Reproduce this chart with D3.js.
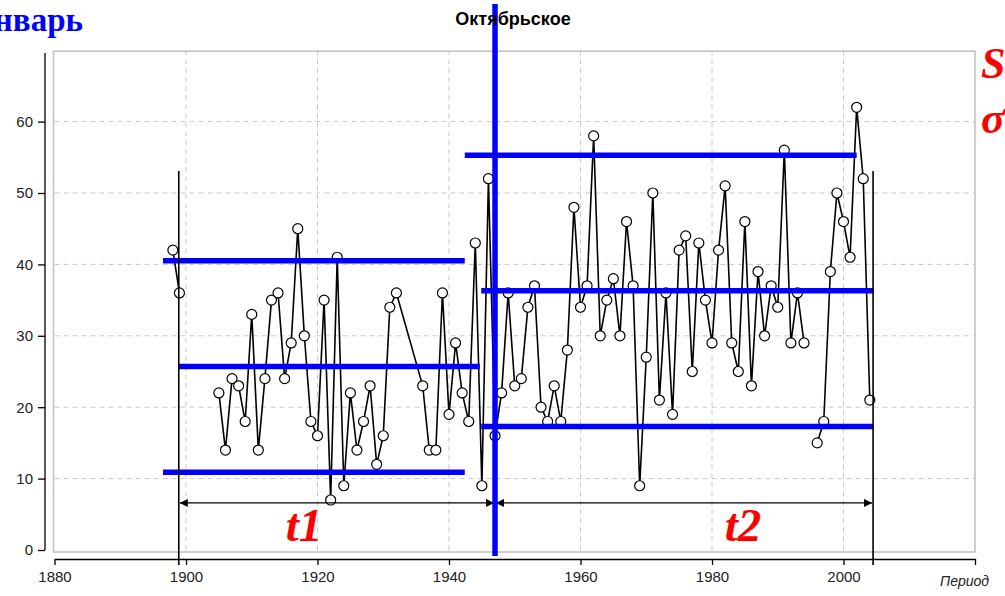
<!DOCTYPE html>
<html>
<head>
<meta charset="UTF-8">
<title>Октябрьское</title>
<script src="https://d3js.org/d3.v7.min.js"></script>
<style>
  body { margin: 0; background: #fff; }
  .grid line { stroke: #c8c8c8; stroke-dasharray: 5,4; }
  .axis text { font: 15px "Liberation Sans Narrow", "Liberation Sans", Arial, sans-serif; fill: #222; }
  .axis path, .axis line { stroke: #000; stroke-width: 1.3; }
</style>
</head>
<body>
<script>
// --- data ---
var years = d3.range(1898, 1933).concat(d3.range(1936, 2005)); // 1933-1935 not observed
var values = [
  42, 36, null, null, null, null, null,           // 1898-1904
  22, 14, 24, 23, 18, 33, 14, 24, 35, 36,         // 1905-1914
  24, 29, 45, 30, 18, 16, 35, 7, 41, 9,           // 1915-1924
  22, 14, 18, 23, 12, 16, 34, 36,                 // 1925-1932
  23, 14, 14, 36, 19, 29, 22, 18, 43, 9,          // 1936-1945
  52, 16, 22, 36, 23, 24, 34, 37, 20, 18,         // 1946-1955
  23, 18, 28, 48, 34, 37, 58, 30, 35, 38,         // 1956-1965
  30, 46, 37, 9, 27, 50, 21, 36, 19, 42,          // 1966-1975
  44, 25, 43, 35, 29, 42, 51, 29, 25, 46,         // 1976-1985
  23, 39, 30, 37, 34, 56, 29, 36, 29, null,       // 1986-1995
  15, 18, 39, 50, 46, 41, 62, 52, 21              // 1996-2004
];
var xTicks = [1880, 1900, 1920, 1940, 1960, 1980, 2000, 2020];
var xTickLabels = ["1880", "1900", "1920", "1940", "1960", "1980", "2000", ""];
var yTicks = [0, 10, 20, 30, 40, 50, 60];

// mean and +/- levels for the two periods
var bandLevel = [40.5, 25.7, 10.9, 55.3, 36.3, 17.3];
var bandStart = [1896.5, 1898.9, 1896.5, 1942.4, 1944.9, 1944.9];
var bandEnd   = [1942.4, 1944.7, 1942.4, 2002.0, 2004.5, 2004.5];

var breakYear = 1947;               // change point
var periodBounds = [1898.9, 2004.5]; // start / end of record
var arrowLevel = 6.6;

var data = years.map(function (yr, i) { return {year: yr, v: values[i]}; });

// --- layout ---
var W = 1005, H = 596;
var x = d3.scaleLinear().domain([1880, 2020]).range([54.5, 975]);
var y = d3.scaleLinear().domain([0, 70]).range([550, 50.2]);

var svg = d3.select("body").append("svg")
    .attr("width", W).attr("height", H)
    .style("display", "block");

var defs = svg.append("defs");
defs.append("marker").attr("id", "arr")
    .attr("viewBox", "0 0 10 10").attr("refX", 10).attr("refY", 5)
    .attr("markerWidth", 12).attr("markerHeight", 8)
    .attr("markerUnits", "userSpaceOnUse")
    .attr("orient", "auto-start-reverse")
  .append("path").attr("d", "M0,0L10,5L0,10Z").attr("fill", "#000");

// GRID
var grid = svg.append("g").attr("class", "grid");
grid.selectAll(".gy").data(yTicks.slice(1)).enter().append("line")
    .attr("x1", x(1880)).attr("x2", x(2020))
    .attr("y1", function (d) { return y(d); })
    .attr("y2", function (d) { return y(d); });
grid.selectAll(".gx").data(xTicks.slice(1, -1)).enter().append("line")
    .attr("x1", function (d) { return x(d); })
    .attr("x2", function (d) { return x(d); })
    .attr("y1", y(70)).attr("y2", y(0) + 2);

// PLOT FRAME
svg.append("rect")
    .attr("x", x(1880) - 1).attr("y", y(70) + 1)
    .attr("width", x(2020) - x(1880) + 1)
    .attr("height", y(0) - y(70) + 1)
    .attr("fill", "none").attr("stroke", "#c4c4c4").attr("stroke-width", 1.6);

// AXES
svg.append("g").attr("class", "axis")
    .attr("transform", "translate(45,0)")
    .call(d3.axisLeft(y).tickValues(yTicks).tickSize(7).tickSizeOuter(0).tickPadding(5))
    .select(".domain").attr("d", "M0," + (y(0)) + "V53");

svg.append("g").attr("class", "axis")
    .attr("transform", "translate(0,559)")
    .call(d3.axisBottom(x).tickValues(xTicks).tickSize(6).tickSizeOuter(0).tickPadding(6)
        .tickFormat(function (d, i) { return xTickLabels[i]; }));

svg.append("text")
    .attr("x", 940).attr("y", 586)
    .style("font", "italic 14px 'Liberation Sans Narrow', 'Liberation Sans', Arial, sans-serif")
    .attr("fill", "#222")
    .text("Период");

// DATA LINE + POINTS
var line = d3.line()
    .defined(function (d) { return d.v != null; })
    .x(function (d) { return x(d.year); })
    .y(function (d) { return y(d.v); });

svg.append("path").datum(data)
    .attr("d", line)
    .attr("fill", "none").attr("stroke", "#000").attr("stroke-width", 1.6);

svg.selectAll(".pt").data(data.filter(function (d) { return d.v != null; }))
  .enter().append("circle")
    .attr("cx", function (d) { return x(d.year); })
    .attr("cy", function (d) { return y(d.v); })
    .attr("r", 5)
    .attr("fill", "#fff").attr("stroke", "#000").attr("stroke-width", 1.2);

// BLUE LEVEL LINES
svg.selectAll(".band").data(bandLevel).enter().append("line")
    .attr("x1", function (d, i) { return x(bandStart[i]); })
    .attr("x2", function (d, i) { return x(bandEnd[i]); })
    .attr("y1", function (d) { return y(d); })
    .attr("y2", function (d) { return y(d); })
    .attr("stroke", "#0000ff").attr("stroke-width", 5.5);

// PERIOD BOUNDS
svg.selectAll(".bound").data(periodBounds).enter().append("line")
    .attr("x1", function (d) { return x(d); })
    .attr("x2", function (d) { return x(d); })
    .attr("y1", 171).attr("y2", 565)
    .attr("stroke", "#000").attr("stroke-width", 1.6);

// ARROWS
var arrowSpans = [[periodBounds[0], breakYear], [breakYear, periodBounds[1]]];
svg.selectAll(".arrow").data(arrowSpans).enter().append("line")
    .attr("x1", function (d) { return x(d[0]) + 1; })
    .attr("x2", function (d) { return x(d[1]) - 1; })
    .attr("y1", y(arrowLevel)).attr("y2", y(arrowLevel))
    .attr("stroke", "#000").attr("stroke-width", 1.4)
    .attr("marker-start", "url(#arr)").attr("marker-end", "url(#arr)");

// CHANGE POINT
svg.append("line")
    .attr("x1", x(breakYear)).attr("x2", x(breakYear))
    .attr("y1", 4).attr("y2", 556)
    .attr("stroke", "#0000ff").attr("stroke-width", 5.5);

// LABELS
svg.append("text")
    .attr("x", 513).attr("y", 25).attr("text-anchor", "middle")
    .style("font", "bold 18px 'Liberation Sans', Arial, sans-serif")
    .text("Октябрьское");

svg.append("text")
    .attr("x", 83).attr("y", 31).attr("text-anchor", "end")
    .style("font", "bold 33px 'Liberation Serif', 'Times New Roman', serif")
    .attr("fill", "#0000ff")
    .text("Январь");

var red = "#ff0000";
[["S", 78], ["σ", 133]].forEach(function (t) {
  svg.append("text")
    .attr("x", 981).attr("y", t[1])
    .style("font", "italic bold 44px 'Liberation Serif', 'Times New Roman', serif")
    .attr("fill", red).text(t[0]);
});
[["t1", 304], ["t2", 743]].forEach(function (t) {
  svg.append("text")
    .attr("x", t[1]).attr("y", 541).attr("text-anchor", "middle")
    .style("font", "italic bold 47px 'Liberation Serif', 'Times New Roman', serif")
    .attr("fill", red).text(t[0]);
});
</script>
</body>
</html>
